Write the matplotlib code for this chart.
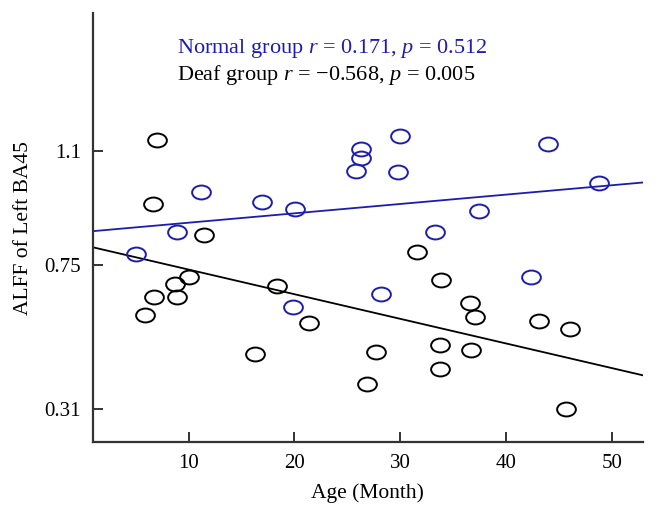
import matplotlib.pyplot as plt
import numpy as np
from matplotlib.path import Path
from matplotlib.transforms import Affine2D

plt.rcParams['font.family'] = 'Liberation Serif'
plt.rcParams['mathtext.fontset'] = 'custom'
plt.rcParams['mathtext.rm'] = 'Liberation Serif'
plt.rcParams['mathtext.it'] = 'Liberation Serif:italic'

# deaf group (black)
deaf_age = [7.0, 6.6, 11.5, 10.0, 8.7, 8.9, 6.7, 5.9, 18.4, 21.4, 16.3, 31.6,
            33.9, 36.6, 37.1, 43.1, 46.0, 27.7, 33.8, 36.7, 33.8, 26.9, 45.7]
deaf_alff = [1.134, 0.937, 0.842, 0.715, 0.692, 0.653, 0.653, 0.597, 0.687, 0.574,
             0.479, 0.790, 0.705, 0.635, 0.592, 0.580, 0.556, 0.485, 0.505, 0.490,
             0.431, 0.385, 0.311]

# normal group (blue)
norm_age = [5.0, 8.9, 11.2, 16.9, 20.1, 19.9, 25.8, 26.3, 26.3, 30.0, 29.8,
            37.4, 33.3, 44.0, 48.8, 28.2, 42.4]
norm_alff = [0.784, 0.851, 0.975, 0.945, 0.922, 0.621, 1.040, 1.078, 1.108, 1.146,
             1.037, 0.917, 0.851, 1.121, 1.003, 0.661, 0.713]

# regression lines (intercept, slope)
norm_fit = (0.852, 0.00287)
deaf_fit = (0.8126, -0.00755)

blue = '#1c1cb0'
ellipse = Path.unit_circle().transformed(Affine2D().scale(1.0, 0.74))

fig = plt.figure(figsize=(6.57, 5.18), dpi=100)
ax = fig.add_axes([0.142, 0.147, 0.836, 0.827])

xl = np.array([1.0, 52.9])
ax.plot(xl, norm_fit[0] + norm_fit[1] * xl, color=blue, lw=1.3)
ax.plot(xl, deaf_fit[0] + deaf_fit[1] * xl, color='black', lw=1.3)

ax.plot(deaf_age, deaf_alff, ls='none', marker=ellipse, ms=13.5, mfc='none',
        mec='black', mew=1.4)
ax.plot(norm_age, norm_alff, ls='none', marker=ellipse, ms=13.5, mfc='none',
        mec=blue, mew=1.4)

ax.set_xlim(1.0, 52.9)
ax.set_ylim(0.209, 1.522)
ax.set_xticks([10, 20, 30, 40, 50])
ax.set_yticks([0.31, 0.75, 1.1])
ax.set_yticklabels(['0.31', '0.75', '1.1'])

for s in ['top', 'right']:
    ax.spines[s].set_visible(False)
for s in ['left', 'bottom']:
    ax.spines[s].set_linewidth(1.6)
    ax.spines[s].set_color('#333333')
ax.tick_params(direction='in', length=7, width=1.4, color='#333333',
               labelsize=15, pad=9)

ax.set_xlabel('Age (Month)', fontsize=15.5, labelpad=7)
ax.set_ylabel('ALFF of Left BA45', fontsize=15.5, labelpad=8)

ax.text(0.152, 0.907, 'Normal group $r$ = 0.171, $p$ = 0.512', transform=ax.transAxes,
        color=blue, fontsize=16, va='baseline')
ax.text(0.152, 0.844, 'Deaf group $r$ = \u22120.568, $p$ = 0.005', transform=ax.transAxes,
        color='black', fontsize=16, va='baseline')

plt.savefig('out.png', dpi=100)
